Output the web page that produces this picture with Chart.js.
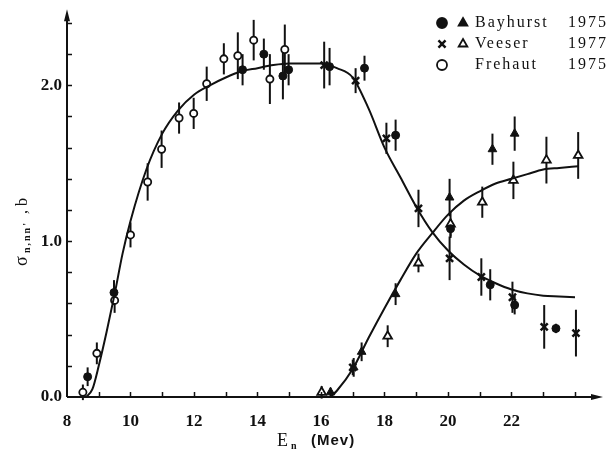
<!DOCTYPE html>
<html>
<head>
<meta charset="utf-8">
<script src="https://cdn.jsdelivr.net/npm/chart.js@4/dist/chart.umd.min.js"></script>
<style>
    html, body { margin: 0; padding: 0; background: #fff; }
    #wrap { width: 609px; height: 455px; }
</style>
</head>
<body>
<div id="wrap"><canvas id="chart" width="609" height="455"></canvas></div>
<script>
// Frehaut 1975 (open circles)
const frehautE = [8.5, 8.94, 9.5, 10.0, 10.54, 10.98, 11.53, 11.99, 12.4, 12.94, 13.38, 13.88, 14.39, 14.86];
const frehautS = [0.03, 0.28, 0.62, 1.04, 1.38, 1.59, 1.79, 1.82, 2.01, 2.17, 2.19, 2.29, 2.04, 2.23];
const frehautErr = [0.05, 0.07, 0.08, 0.08, 0.12, 0.12, 0.1, 0.1, 0.11, 0.1, 0.15, 0.13, 0.16, 0.16];

// Bayhurst 1975 (filled circles, filled triangles)
const bayCircE = [8.65, 9.48, 13.53, 14.2, 14.8, 14.98, 16.27, 17.37, 18.35, 20.08, 21.33, 22.1, 23.4];
const bayCircS = [0.13, 0.67, 2.10, 2.20, 2.06, 2.10, 2.12, 2.11, 1.68, 1.08, 0.72, 0.59, 0.44];
const bayCircErr = [0.06, 0.08, 0.1, 0.1, 0.15, 0.1, 0.12, 0.08, 0.1, 0.06, 0.1, 0.06, 0.03];
const bayTriE = [16.3, 17.03, 17.28, 18.35, 20.05, 21.4, 22.1];
const bayTriS = [0.03, 0.19, 0.29, 0.66, 1.28, 1.59, 1.69];
const bayTriErr = [0.03, 0.06, 0.06, 0.07, 0.12, 0.1, 0.11];

// Veeser 1977 (crosses, open triangles)
const veeCrossE = [16.1, 17.0, 17.09, 18.06, 19.07, 20.05, 21.05, 22.03, 23.03, 24.03];
const veeCrossS = [2.13, 0.19, 2.03, 1.66, 1.21, 0.89, 0.77, 0.64, 0.45, 0.41];
const veeCrossErr = [0.15, 0.05, 0.08, 0.1, 0.12, 0.14, 0.12, 0.1, 0.14, 0.15];
const veeTriE = [16.02, 18.1, 19.07, 20.08, 21.08, 22.06, 23.1, 24.1];
const veeTriS = [0.03, 0.39, 0.86, 1.11, 1.25, 1.39, 1.52, 1.55];
const veeTriErr = [0.04, 0.07, 0.06, 0.08, 0.1, 0.12, 0.15, 0.15];

// fitted curves
const curveAE = [8.6, 8.8, 9.0, 9.25, 9.5, 9.75, 10.0, 10.5, 11.0, 11.5, 12.0, 12.5, 13.0, 13.5, 14.0, 14.5, 15.0, 16.0, 16.5, 17.0, 17.5, 18.0, 18.5, 19.0, 19.5, 20.0, 20.5, 21.0, 21.5, 22.0, 22.5, 23.0, 23.5, 24.0];
const curveAS = [0.0, 0.05, 0.2, 0.42, 0.66, 0.92, 1.13, 1.46, 1.69, 1.84, 1.94, 2.0, 2.05, 2.09, 2.11, 2.13, 2.14, 2.14, 2.11, 2.05, 1.85, 1.6, 1.41, 1.22, 1.06, 0.94, 0.85, 0.78, 0.73, 0.69, 0.665, 0.65, 0.645, 0.64];
const curveBE = [16.3, 16.5, 17.0, 17.5, 18.0, 18.5, 19.0, 19.5, 20.0, 20.5, 21.0, 21.5, 22.0, 22.5, 23.0, 23.5, 24.1];
const curveBS = [0.0, 0.04, 0.18, 0.38, 0.57, 0.75, 0.92, 1.05, 1.17, 1.26, 1.32, 1.37, 1.40, 1.43, 1.46, 1.47, 1.48];

const yTickStep = 0.2;
const xTickStep = 1;

function pts(xs, ys) {
    return xs.map((x, i) => ({ x: x, y: ys[i] }));
}

const serif = "'Liberation Serif', 'DejaVu Serif', serif";

// error bars drawn from the err arrays through the scales
const errorBars = {
    id: 'errorBars',
    beforeDatasetsDraw(chart) {
        const { ctx, scales: { x, y } } = chart;
        ctx.save();
        ctx.strokeStyle = '#111';
        ctx.lineWidth = 2;
        chart.data.datasets.forEach(ds => {
            if (!ds.err) return;
            ds.data.forEach((p, i) => {
                const px = x.getPixelForValue(p.x);
                ctx.beginPath();
                ctx.moveTo(px, y.getPixelForValue(p.y - ds.err[i]));
                ctx.lineTo(px, y.getPixelForValue(p.y + ds.err[i]));
                ctx.stroke();
            });
        });
        ctx.restore();
    }
};

// axes with arrows, inward ticks, axis titles, legend
const frame = {
    id: 'frame',
    afterDraw(chart) {
        const { ctx, chartArea: a, scales: { x, y } } = chart;
        ctx.save();
        ctx.strokeStyle = '#111';
        ctx.fillStyle = '#111';
        ctx.lineWidth = 2;

        // axis lines
        ctx.beginPath();
        ctx.moveTo(a.left, a.bottom);
        ctx.lineTo(a.left, a.top);
        ctx.moveTo(a.left, a.bottom);
        ctx.lineTo(a.right + 2, a.bottom);
        ctx.stroke();
        // arrow heads
        ctx.beginPath();
        ctx.moveTo(a.left, a.top - 6);
        ctx.lineTo(a.left - 3, a.top + 6);
        ctx.lineTo(a.left + 3, a.top + 6);
        ctx.closePath();
        ctx.fill();
        ctx.beginPath();
        ctx.moveTo(a.right + 8, a.bottom);
        ctx.lineTo(a.right - 4, a.bottom - 3);
        ctx.lineTo(a.right - 4, a.bottom + 3);
        ctx.closePath();
        ctx.fill();

        // inward ticks
        ctx.lineWidth = 1.5;
        ctx.beginPath();
        for (let v = yTickStep; v < y.max; v += yTickStep) {
            const py = Math.round(y.getPixelForValue(v)) + 0.5;
            ctx.moveTo(a.left, py);
            ctx.lineTo(a.left + 5, py);
        }
        for (let v = x.min + xTickStep; v <= x.max; v += xTickStep) {
            const px = Math.round(x.getPixelForValue(v)) + 0.5;
            ctx.moveTo(px, a.bottom);
            ctx.lineTo(px, a.bottom - 5);
        }
        ctx.stroke();

        // y title: sigma_{n,nn'}, b (rotated)
        ctx.save();
        ctx.translate(27, 266);
        ctx.rotate(-Math.PI / 2);
        ctx.textBaseline = 'alphabetic';
        ctx.font = '18px ' + serif;
        ctx.fillText('σ', 0, 0);
        ctx.font = 'bold 10px ' + serif;
        ctx.letterSpacing = '2px';
        ctx.fillText("n,nn'", 13, 3);
        ctx.letterSpacing = '0px';
        ctx.font = '16px ' + serif;
        ctx.fillText(', b', 52, 0);
        ctx.restore();

        // x title: E_n (Mev)
        ctx.textBaseline = 'alphabetic';
        ctx.font = '18px ' + serif;
        ctx.fillText('E', 277, 446);
        ctx.font = 'bold 10px ' + serif;
        ctx.fillText('n', 291, 449);
        ctx.font = "bold 15px 'Liberation Sans', sans-serif";
        ctx.letterSpacing = '1px';
        ctx.fillText('(Mev)', 311, 445);
        ctx.letterSpacing = '0px';

        // legend
        const rows = [
            { marks: [['circle', true], ['triangle', true]], name: 'Bayhurst', year: '1975', y: 23 },
            { marks: [['crossRot', true], ['triangle', false]], name: 'Veeser', year: '1977', y: 44 },
            { marks: [['circle', false]], name: 'Frehaut', year: '1975', y: 65 }
        ];
        rows.forEach(r => {
            r.marks.forEach((m, i) => {
                ctx.save();
                ctx.lineWidth = m[0] === 'crossRot' ? 2.5 : 1.8;
                ctx.fillStyle = m[1] ? '#111' : '#fff';
                ctx.strokeStyle = '#111';
                Chart.helpers.drawPoint(ctx, { pointStyle: m[0], radius: 5, rotation: 0, borderWidth: ctx.lineWidth }, 442 + i * 21, r.y);
                ctx.restore();
            });
            ctx.font = '16px ' + serif;
            ctx.textBaseline = 'middle';
            ctx.letterSpacing = '2px';
            ctx.fillText(r.name, 475, r.y);
            ctx.fillText(r.year, 568, r.y);
            ctx.letterSpacing = '0px';
        });
        ctx.restore();
    }
};

const ctx = document.getElementById('chart').getContext('2d');

new Chart(ctx, {
    type: 'scatter',
    data: {
        datasets: [
            {
                label: 'fit (n,n\')',
                data: pts(curveAE, curveAS),
                showLine: true,
                borderColor: '#111',
                borderWidth: 2,
                pointRadius: 0,
                cubicInterpolationMode: 'monotone'
            },
            {
                label: 'fit (n,2n)',
                data: pts(curveBE, curveBS),
                showLine: true,
                borderColor: '#111',
                borderWidth: 2,
                pointRadius: 0,
                cubicInterpolationMode: 'monotone'
            },
            {
                label: 'Frehaut 1975',
                data: pts(frehautE, frehautS),
                err: frehautErr,
                pointStyle: 'circle',
                pointRadius: 3.6,
                backgroundColor: '#fff',
                borderColor: '#111',
                borderWidth: 1.8
            },
            {
                label: 'Bayhurst 1975',
                data: pts(bayCircE, bayCircS),
                err: bayCircErr,
                pointStyle: 'circle',
                pointRadius: 4,
                backgroundColor: '#111',
                borderColor: '#111',
                borderWidth: 1
            },
            {
                label: 'Bayhurst 1975 (n,2n)',
                data: pts(bayTriE, bayTriS),
                err: bayTriErr,
                pointStyle: 'triangle',
                pointRadius: 5,
                backgroundColor: '#111',
                borderColor: '#111',
                borderWidth: 1
            },
            {
                label: 'Veeser 1977',
                data: pts(veeCrossE, veeCrossS),
                err: veeCrossErr,
                pointStyle: 'crossRot',
                pointRadius: 5,
                borderColor: '#111',
                borderWidth: 2.5
            },
            {
                label: 'Veeser 1977 (n,2n)',
                data: pts(veeTriE, veeTriS),
                err: veeTriErr,
                pointStyle: 'triangle',
                pointRadius: 5,
                backgroundColor: '#fff',
                borderColor: '#111',
                borderWidth: 1.8
            }
        ]
    },
    options: {
        responsive: false,
        animation: false,
        layout: { padding: { top: 12, right: 12, left: 0, bottom: 0 } },
        plugins: {
            legend: { display: false },
            tooltip: { enabled: false }
        },
        scales: {
            x: {
                type: 'linear',
                min: 8,
                max: 24.63,
                afterFit: s => { s.height = 58; },
                grid: { display: false, drawTicks: false },
                border: { display: false },
                ticks: {
                    stepSize: xTickStep,
                    autoSkip: false,
                    maxRotation: 0,
                    padding: 14,
                    color: '#111',
                    font: { family: serif, size: 17, weight: 'bold' },
                    callback: v => (Number.isInteger(v) && v % 2 === 0 && v <= 22) ? String(v) : ''
                }
            },
            y: {
                type: 'linear',
                min: 0,
                max: 2.45,
                afterFit: s => { s.width = 67; },
                grid: { display: false, drawTicks: false },
                border: { display: false },
                ticks: {
                    stepSize: yTickStep,
                    autoSkip: false,
                    padding: 5,
                    color: '#111',
                    font: { family: serif, size: 17, weight: 'bold' },
                    callback: v => Math.abs(v - Math.round(v)) < 1e-6 ? Math.round(v).toFixed(1) : ''
                }
            }
        }
    },
    plugins: [errorBars, frame]
});
</script>
</body>
</html>
